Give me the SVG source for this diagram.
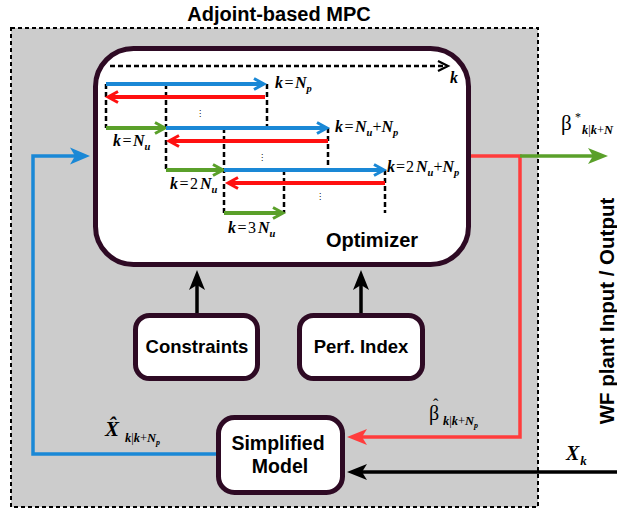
<svg xmlns="http://www.w3.org/2000/svg" width="617" height="510" viewBox="0 0 617 510">
  <style>
    .frame { fill: #cccccc; stroke: #000; stroke-width: 2; stroke-dasharray: 4 3; }
    .box { fill: #fff; stroke: #2e0a24; stroke-width: 5; }
    .lbl { font-family: "Liberation Sans", Arial, sans-serif; font-weight: bold; fill: #000; }
    .m { font-family: "Liberation Serif", "Times New Roman", serif; font-style: italic; font-weight: bold; font-size: 16px; fill: #000; }
    .up { font-style: normal; font-weight: normal; }
    .sb { font-size: 10.5px; }
    .dots { font-family: "DejaVu Sans", sans-serif; font-size: 8px; fill: #000; }
    .tl { fill: none; stroke-width: 4; }
    .vd { stroke: #000; stroke-width: 2.5; stroke-dasharray: 5 3; fill: none; }
    .ol { fill: none; stroke-width: 3.5; }
    .blue { stroke: #1a88d6; }
    .red { stroke: #ff1010; }
    .green { stroke: #5aa02a; }
    .redo { stroke: #ff3c3c; }
  </style>
  <defs>
    <marker id="cvB" markerUnits="userSpaceOnUse" markerWidth="14" markerHeight="14" viewBox="-2 -2 14 14" refX="9" refY="5.5" orient="auto" overflow="visible">
      <path d="M0,0 L10,5.5 L0,11" fill="none" stroke="#1a88d6" stroke-width="3"/>
    </marker>
    <marker id="cvR" markerUnits="userSpaceOnUse" markerWidth="14" markerHeight="14" viewBox="-2 -2 14 14" refX="9" refY="5.5" orient="auto" overflow="visible">
      <path d="M0,0 L10,5.5 L0,11" fill="none" stroke="#ff1010" stroke-width="3"/>
    </marker>
    <marker id="cvG" markerUnits="userSpaceOnUse" markerWidth="14" markerHeight="14" viewBox="-2 -2 14 14" refX="9" refY="5.5" orient="auto" overflow="visible">
      <path d="M0,0 L10,5.5 L0,11" fill="none" stroke="#5aa02a" stroke-width="3"/>
    </marker>
    <marker id="cvK" markerUnits="userSpaceOnUse" markerWidth="14" markerHeight="14" viewBox="-2 -2 14 14" refX="9" refY="5" orient="auto" overflow="visible">
      <path d="M0,0 L10,5 L0,10" fill="none" stroke="#000" stroke-width="2.2"/>
    </marker>
    <marker id="hdB" markerUnits="userSpaceOnUse" markerWidth="20" markerHeight="17" viewBox="0 0 20 17" refX="6" refY="8.5" orient="auto" overflow="visible">
      <path d="M0,0 L20,8.5 L0,17 L5,8.5 Z" fill="#1a88d6"/>
    </marker>
    <marker id="hdR" markerUnits="userSpaceOnUse" markerWidth="20" markerHeight="16" viewBox="0 0 20 16" refX="6" refY="8" orient="auto" overflow="visible">
      <path d="M0,0 L20,8 L0,16 L5,8 Z" fill="#ff3c3c"/>
    </marker>
    <marker id="hdG" markerUnits="userSpaceOnUse" markerWidth="20" markerHeight="16" viewBox="0 0 20 16" refX="6" refY="8" orient="auto" overflow="visible">
      <path d="M0,0 L20,8 L0,16 L5,8 Z" fill="#5aa02a"/>
    </marker>
    <marker id="hdK" markerUnits="userSpaceOnUse" markerWidth="20" markerHeight="16" viewBox="0 0 20 16" refX="6" refY="8" orient="auto" overflow="visible">
      <path d="M0,0 L20,8 L0,16 L5,8 Z" fill="#000"/>
    </marker>
  </defs>

  <!-- MPC frame -->
  <g id="mpc-frame">
    <rect class="frame" x="11" y="28" width="527" height="479"/>
    <text class="lbl" x="279" y="21" style="font-size:20px" text-anchor="middle">Adjoint-based MPC</text>
  </g>

  <!-- outer signal connectors -->
  <g id="connectors">
    <path class="ol blue" d="M216,454 H33 V156 H76" marker-end="url(#hdB)"/>
    <path class="ol redo" d="M469,156 H520 V437 H361" marker-end="url(#hdR)"/>
    <path class="ol green" d="M520,156 H594" marker-end="url(#hdG)"/>
    <path class="ol" stroke="#000" d="M617,472 H361" marker-end="url(#hdK)"/>
    <path class="ol" stroke="#000" d="M197,313 V284" marker-end="url(#hdK)"/>
    <path class="ol" stroke="#000" d="M361,313 V284" marker-end="url(#hdK)"/>
  </g>

  <!-- optimizer with its receding-horizon sketch -->
  <g id="optimizer">
    <rect class="box" x="95.5" y="48.5" width="373" height="216" rx="38"/>
    <path class="vd" d="M110,66 H447" marker-end="url(#cvK)"/>
    <text class="m" x="450" y="83">k</text>

    <path class="vd" d="M106,84 V128 M166,84 V170 M267,84 V128 M224,128 V213 M328,128 V170 M284,170 V213 M385,170 V213"/>

    <path class="tl blue" d="M106,84 H263" marker-end="url(#cvB)"/>
    <path class="tl red" d="M265,97 H109" marker-end="url(#cvR)"/>
    <path class="tl green" d="M106,128 H164" marker-end="url(#cvG)"/>
    <path class="tl blue" d="M166,128 H326" marker-end="url(#cvB)"/>
    <path class="tl red" d="M328,141 H170" marker-end="url(#cvR)"/>
    <path class="tl green" d="M166,170 H222" marker-end="url(#cvG)"/>
    <path class="tl blue" d="M224,170 H383" marker-end="url(#cvB)"/>
    <path class="tl red" d="M385,183 H229" marker-end="url(#cvR)"/>
    <path class="tl green" d="M224,213 H282" marker-end="url(#cvG)"/>

    <text class="dots" x="196" y="116">⋮</text>
    <text class="dots" x="258" y="160">⋮</text>
    <text class="dots" x="316" y="199">⋮</text>

    <text class="m" x="275" y="88">k<tspan class="up" dx="1.5">=</tspan><tspan dx="1.5">N</tspan><tspan class="sb" dy="4">p</tspan></text>
    <text class="m" x="113" y="146">k<tspan class="up" dx="1.5">=</tspan><tspan dx="1.5">N</tspan><tspan class="sb" dy="4">u</tspan></text>
    <text class="m" x="335" y="132">k<tspan class="up" dx="1.5">=</tspan><tspan dx="1.5">N</tspan><tspan class="sb" dy="4">u</tspan><tspan class="up" dy="-4">+</tspan>N<tspan class="sb" dy="4">p</tspan></text>
    <text class="m" x="170" y="189">k<tspan class="up" dx="1.5">=</tspan><tspan class="up" dx="1.5">2</tspan><tspan dx="2">N</tspan><tspan class="sb" dy="4">u</tspan></text>
    <text class="m" x="387" y="172">k<tspan class="up" dx="1">=</tspan><tspan class="up" dx="1">2</tspan><tspan dx="2">N</tspan><tspan class="sb" dy="4">u</tspan><tspan class="up" dy="-4">+</tspan>N<tspan class="sb" dy="4">p</tspan></text>
    <text class="m" x="228" y="233">k<tspan class="up" dx="1.5">=</tspan><tspan class="up" dx="1.5">3</tspan><tspan dx="2">N</tspan><tspan class="sb" dy="4">u</tspan></text>

    <text class="lbl" x="372" y="247" style="font-size:20px" text-anchor="middle">Optimizer</text>
  </g>

  <g id="constraints">
    <rect class="box" x="135.5" y="315.5" width="122" height="63" rx="14"/>
    <text class="lbl" x="197" y="353" style="font-size:18.5px" text-anchor="middle">Constraints</text>
  </g>

  <g id="perf-index">
    <rect class="box" x="299.5" y="315.5" width="123" height="63" rx="14"/>
    <text class="lbl" x="361" y="353" style="font-size:18.5px" text-anchor="middle">Perf. Index</text>
  </g>

  <g id="simplified-model">
    <rect class="box" x="218.5" y="417.5" width="124" height="75" rx="16"/>
    <text class="lbl" x="278" y="450" style="font-size:19.5px" text-anchor="middle">Simplified</text>
    <text class="lbl" x="280" y="473" style="font-size:19.5px" text-anchor="middle">Model</text>
  </g>

  <!-- signal labels -->
  <g id="signal-labels">
    <text class="m" x="561" y="130" style="font-size:21px"><tspan class="up">β</tspan><tspan class="up" x="575" y="121" style="font-size:12px">*</tspan><tspan x="582" y="134" style="font-size:12.5px">k<tspan class="up">|</tspan>k<tspan class="up">+</tspan>N</tspan></text>

    <text class="m" x="429" y="420" style="font-size:20px"><tspan class="up">β</tspan><tspan class="up" x="433" y="410" style="font-size:16px">ˆ</tspan><tspan x="443" y="425" style="font-size:12.5px">k<tspan class="up">|</tspan>k<tspan class="up">+</tspan>N<tspan dy="3" style="font-size:8px">p</tspan></tspan></text>

    <text class="m" x="105" y="436" style="font-size:21px">X̂<tspan x="125" y="442" style="font-size:12.5px">k<tspan class="up">|</tspan>k<tspan class="up">+</tspan>N<tspan dy="3" style="font-size:8px">p</tspan></tspan></text>

    <text class="m" x="566" y="460" style="font-size:20px">X<tspan dx="1" dy="5" style="font-size:13px">k</tspan></text>

    <text class="lbl" style="font-size:20.5px" text-anchor="middle" transform="translate(614,311) rotate(-90)">WF plant Input / Output</text>
  </g>
</svg>
